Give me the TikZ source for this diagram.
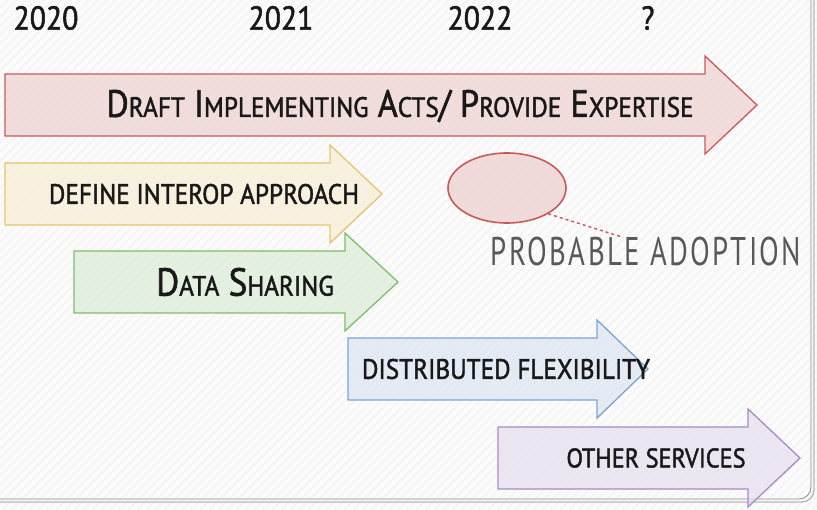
\documentclass[tikz,border=0pt]{standalone}
\usepackage{fontspec}
\newfontfamily\sketchfont[FakeStretch=0.9,FakeBold=1.6]{PT Sans}
\newfontfamily\thinfont[FakeStretch=0.72,LetterSpace=6]{PT Sans}
\usetikzlibrary{shapes.geometric}
\usetikzlibrary{positioning}

\definecolor{redline}{HTML}{C85A5A}
\definecolor{yellowline}{HTML}{E8C46C}
\definecolor{greenline}{HTML}{7DBE6C}
\definecolor{blueline}{HTML}{7FA2D2}
\definecolor{purpleline}{HTML}{A68BC6}
\definecolor{framegray}{HTML}{8A8A8A}

% smaller capitals for the small-caps look
\newcommand\smc[1]{{\fontsize{28}{28}\selectfont #1}}
% arrow: colour, left x, head base x, tip x, middle y
\newcommand\phasearrow[5]{%
    \draw[phase=#1] (#2,#5-31) -- (#3,#5-31) -- (#3,#5-49) -- (#4,#5)
        -- (#3,#5+49) -- (#3,#5+31) -- (#2,#5+31) -- cycle;}

\begin{document}
\begin{tikzpicture}[x=1pt,y=-1pt,
    every node/.style={inner sep=0pt,text=black!90},
    phase/.style={line width=1.3pt,draw=#1,fill=#1!30,fill opacity=.65},
    phasetext/.style={font=\sketchfont\fontsize{28}{28}\selectfont},
    year/.style={font=\sketchfont\fontsize{33}{33}\selectfont},
    hatch/.style={gray!14,line width=.5pt}]
    \useasboundingbox (0,0) rectangle (817,510);
    \fill[gray!3] (0,0) rectangle (817,510);
    \begin{scope}
        \clip (0,0) rectangle (817,510);
        \foreach \i in {-520,-511,...,820}
            \draw[hatch] (\i,510) -- (\i+510,0);
    \end{scope}
    % frame
    \draw[framegray!60,line width=1.4pt,rounded corners=12pt] (814,-10) -- (814,502) -- (-10,502);
    \draw[framegray,line width=.8pt,rounded corners=12pt] (811,-10) -- (811,499) -- (-10,499);

    % years
    \node[year] (y2020) at (46,18) {2020};
    \node[year] (y2021) at (281,18) {2021};
    \node[year] (y2022) at (480,18) {2022};
    \node[year] (yopen) at (648,18) {?};

    % phases
    \phasearrow{redline}{5}{705}{757}{105}
    \node[phasetext,font=\sketchfont\fontsize{38}{38}\selectfont] (draft) at (400,106)
        {D\smc{RAFT} I\smc{MPLEMENTING} A\smc{CTS}/ P\smc{ROVIDE} E\smc{XPERTISE}};
    \phasearrow{yellowline}{5}{330}{382}{194}
    \node[phasetext] (interop) at (204,194) {DEFINE INTEROP APPROACH};
    \phasearrow{greenline}{74}{345}{398}{282}
    \node[phasetext,font=\sketchfont\fontsize{39}{39}\selectfont] (sharing) at (245,282)
        {D\smc{ATA} S\smc{HARING}};
    \phasearrow{blueline}{348}{597}{648}{369}
    \node[phasetext] (flex) at (506,369) {DISTRIBUTED FLEXIBILITY};
    \phasearrow{purpleline}{498}{748}{800}{458}
    \node[phasetext,font=\sketchfont\fontsize{27}{27}\selectfont] (other) at (656,458) {OTHER SERVICES};

    % adoption marker
    \node[ellipse,draw=redline,line width=1.6pt,fill=redline!30,fill opacity=.7,
        minimum width=118pt,minimum height=70pt] (adopt) at (507,188) {};
    \node[font=\thinfont\fontsize{40}{40}\selectfont,text=black!65] (adoptText) at (646,252)
        {PROBABLE ADOPTION};
    \draw[redline,dashed,line width=1.4pt] (adopt.-32) -- ([xshift=-23pt]adoptText.north);
\end{tikzpicture}
\end{document}
